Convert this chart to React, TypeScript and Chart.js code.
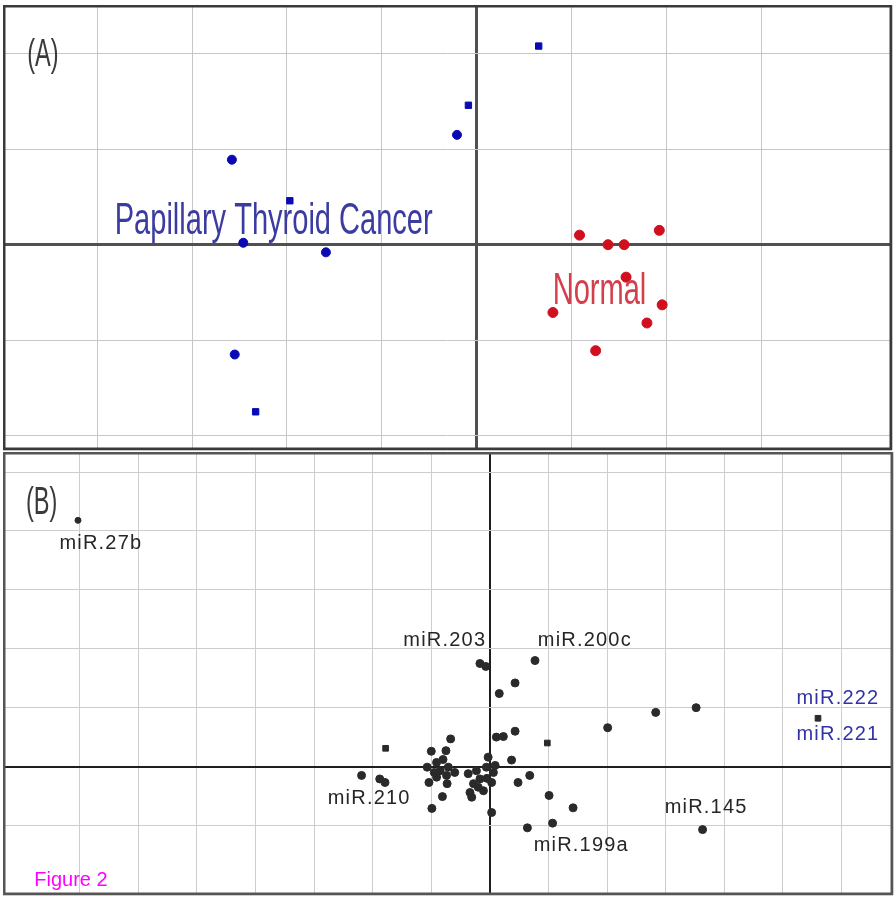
import React, { useEffect, useRef } from "react";
import Chart from "chart.js/auto";

// ---------- Panel (A): sample PCA ----------
const cancerX = [0.65, -0.09, -0.21, -2.58, -1.97, -2.46, -1.59, -2.55, -2.33];
const cancerY = [2.08, 1.46, 1.15, 0.89, 0.46, 0.02, -0.08, -1.15, -1.75];
const cancerStyle = ["rect", "rect", "circle", "circle", "rect", "circle", "circle", "circle", "rect"];
const normalX = [1.08, 1.38, 1.55, 1.92, 1.57, 0.8, 1.95, 1.79, 1.25];
const normalY = [0.1, 0.0, 0.0, 0.15, -0.34, -0.71, -0.63, -0.82, -1.11];
const groupNames = ["Papillary Thyroid Cancer", "Normal"];
const groupLabelX = [-2.14, 1.29];
const groupLabelY = [0.24, -0.49];

// ---------- Panel (B): miRNA loadings ----------
const mirX = [
  -7.03, 5.6, 0.77, -0.17, -0.07, 0.43, 0.16, 2.83, 3.52, 2.01, 0.98, 0.43, 0.11, 0.23,
  0.37, 0.68, 0.48, 1.01, 1.42, 1.07, 0.64, 3.63, 0.03, -1.78, -2.19, -1.88, -1.79, -0.99,
  -0.81, -0.67, -1.0, -0.75, -1.07, -0.91, -0.85, -0.71, -0.6, -1.04, -0.74, -0.91, -0.73,
  -0.37, -0.28, -0.34, -0.31, -0.17, -0.11, -0.06, -0.03, 0.06, 0.03, 0.09, -0.23, -0.95,
  -0.8, -0.2, -0.05,
];
const mirY = [
  4.18, 0.82, 1.8, 1.75, 1.7, 1.42, 1.24, 0.92, 1.0, 0.66, 0.4, 0.6, 0.5, 0.51,
  0.11, -0.15, -0.27, -0.49, -0.7, -0.96, -1.04, -1.07, -0.78, 0.31, -0.15, -0.21, -0.27, -0.71,
  -0.51, 0.47, 0.26, 0.27, -0.01, 0.07, -0.07, -0.01, -0.1, -0.27, -0.15, -0.18, -0.29,
  -0.12, -0.29, -0.44, -0.52, -0.21, -0.41, -0.01, 0.16, -0.1, -0.27, 0.02, -0.07, -0.1,
  0.12, -0.35, -0.2,
];
const mirSquare = [1, 10, 23];
const mirNames = ["miR.27b", "miR.203", "miR.200c", "miR.210", "miR.199a", "miR.145", "miR.222", "miR.221"];
const mirLabelX = [-6.64, -0.77, 1.62, -2.06, 1.56, 3.69, 5.94, 5.94];
const mirLabelY = [3.78, 2.14, 2.14, -0.54, -1.34, -0.7, 1.16, 0.54];
const mirHighlighted = ["miR.222", "miR.221"];

const panelTags = ["(A)", "(B)"];
const caption = "Figure 2";

const framePlugin = {
  id: "panelText",
  afterDatasetsDraw(chart: any, _args: any, opts: any) {
    const { ctx, chartArea } = chart;
    ctx.save();
    ctx.strokeStyle = opts.frameColor;
    ctx.lineWidth = opts.frameWidth;
    ctx.strokeRect(
      chartArea.left + opts.frameWidth / 2,
      chartArea.top + opts.frameWidth / 2,
      chartArea.right - chartArea.left - opts.frameWidth,
      chartArea.bottom - chartArea.top - opts.frameWidth
    );
    for (const l of opts.items || []) {
      const px = chart.scales.x.getPixelForValue(l.x);
      const py = chart.scales.y.getPixelForValue(l.y);
      ctx.save();
      ctx.translate(px, py);
      ctx.scale(l.sx ?? 1, 1);
      ctx.font = l.font;
      ctx.fillStyle = l.color;
      ctx.textAlign = "center";
      ctx.textBaseline = "middle";
      (ctx as any).letterSpacing = (l.ls ?? 0) + "px";
      ctx.fillText(l.text, 0, 0);
      ctx.restore();
    }
    ctx.restore();
  },
};

function gridOpts(axisColor: string, axisWidth: number, gridColor: string) {
  return {
    color: (c: any) => (c.tick && Math.abs(c.tick.value) < 1e-9 ? axisColor : gridColor),
    lineWidth: (c: any) => (c.tick && Math.abs(c.tick.value) < 1e-9 ? axisWidth : 1),
    drawTicks: false,
  };
}

function scale(horizontal: boolean, min: number, max: number, axisColor: string, axisWidth: number, gridColor: string) {
  return {
    type: "linear" as const,
    min,
    max,
    ticks: { display: false, stepSize: 1, maxTicksLimit: 100, padding: 0 },
    grid: gridOpts(axisColor, axisWidth, gridColor),
    border: { display: false },
    title: { display: false },
    afterFit: (s: any) => {
      if (horizontal) s.height = 0;
      else s.width = 0;
    },
  };
}

const pts = (xs: number[], ys: number[]) => xs.map((x, i) => ({ x, y: ys[i] }));

export default function App() {
  const refA = useRef<HTMLCanvasElement>(null);
  const refB = useRef<HTMLCanvasElement>(null);

  useEffect(() => {
    const chartA = new Chart(refA.current!, {
      type: "scatter",
      data: {
        datasets: [
          {
            label: groupNames[0],
            data: pts(cancerX, cancerY),
            backgroundColor: "#0a0ab4",
            borderColor: "#0a0ab4",
            pointRadius: 4.5,
            pointStyle: cancerStyle as any,
          },
          {
            label: groupNames[1],
            data: pts(normalX, normalY),
            backgroundColor: "#d0101e",
            borderColor: "#d0101e",
            pointRadius: 5,
          },
        ],
      },
      options: {
        animation: false,
        responsive: false,
        events: [],
        layout: { autoPadding: false, padding: { left: 3, right: 3, top: 5, bottom: 1 } },
        scales: {
          x: scale(true, -4.99, 4.37, "#505050", 3, "#c6c6c6"),
          y: scale(false, -2.15, 2.51, "#505050", 3, "#c6c6c6"),
        },
        plugins: {
          legend: { display: false },
          tooltip: { enabled: false },
          panelText: {
            frameColor: "#3a3a3a",
            frameWidth: 2.5,
            items: [
              { text: panelTags[0], x: -4.57, y: 1.98, font: "38px 'Liberation Sans'", color: "#3a3a3a", sx: 0.62 },
              { text: groupNames[0], x: groupLabelX[0], y: groupLabelY[0], font: "44px 'Liberation Sans'", color: "#3c3ca0", sx: 0.66 },
              { text: groupNames[1], x: groupLabelX[1], y: groupLabelY[1], font: "44px 'Liberation Sans'", color: "#d2404e", sx: 0.66 },
            ],
          },
        } as any,
      },
      plugins: [framePlugin],
    });

    const mirLabels = mirNames.map((t, i) => ({
      text: t,
      x: mirLabelX[i],
      y: mirLabelY[i],
      font: "20px 'Liberation Sans'",
      color: mirHighlighted.includes(t) ? "#3232a8" : "#262626",
      ls: 1.2,
    }));

    const chartB = new Chart(refB.current!, {
      type: "scatter",
      data: {
        datasets: [
          {
            label: "miRNA",
            data: pts(mirX, mirY),
            backgroundColor: "#2a2a2a",
            borderColor: "#2a2a2a",
            pointRadius: mirX.map((_, i) => (i === 0 ? 3 : 4)),
            pointStyle: mirX.map((_, i) => (mirSquare.includes(i) ? "rect" : "circle")) as any,
          },
        ],
      },
      options: {
        animation: false,
        responsive: false,
        events: [],
        layout: { autoPadding: false, padding: { left: 3, right: 2, top: 1, bottom: 4 } },
        scales: {
          x: scale(true, -8.31, 6.88, "#1e1e1e", 2, "#cdcdcd"),
          y: scale(false, -2.18, 5.34, "#1e1e1e", 2, "#cdcdcd"),
        },
        plugins: {
          legend: { display: false },
          tooltip: { enabled: false },
          panelText: {
            frameColor: "#555555",
            frameWidth: 2.5,
            items: [
              { text: panelTags[1], x: -7.65, y: 4.47, font: "38px 'Liberation Sans'", color: "#3a3a3a", sx: 0.62 },
              ...mirLabels,
              { text: caption, x: -7.15, y: -1.94, font: "20px 'Liberation Sans'", color: "#ff00ff" },
            ],
          },
        } as any,
      },
      plugins: [framePlugin],
    });

    return () => {
      chartA.destroy();
      chartB.destroy();
    };
  }, []);

  return (
    <div style={{ position: "absolute", left: 0, top: 0, width: 895, height: 899, background: "#fff" }}>
      <canvas ref={refA} width={895} height={451} style={{ display: "block" }} />
      <canvas ref={refB} width={895} height={448} style={{ display: "block" }} />
    </div>
  );
}
